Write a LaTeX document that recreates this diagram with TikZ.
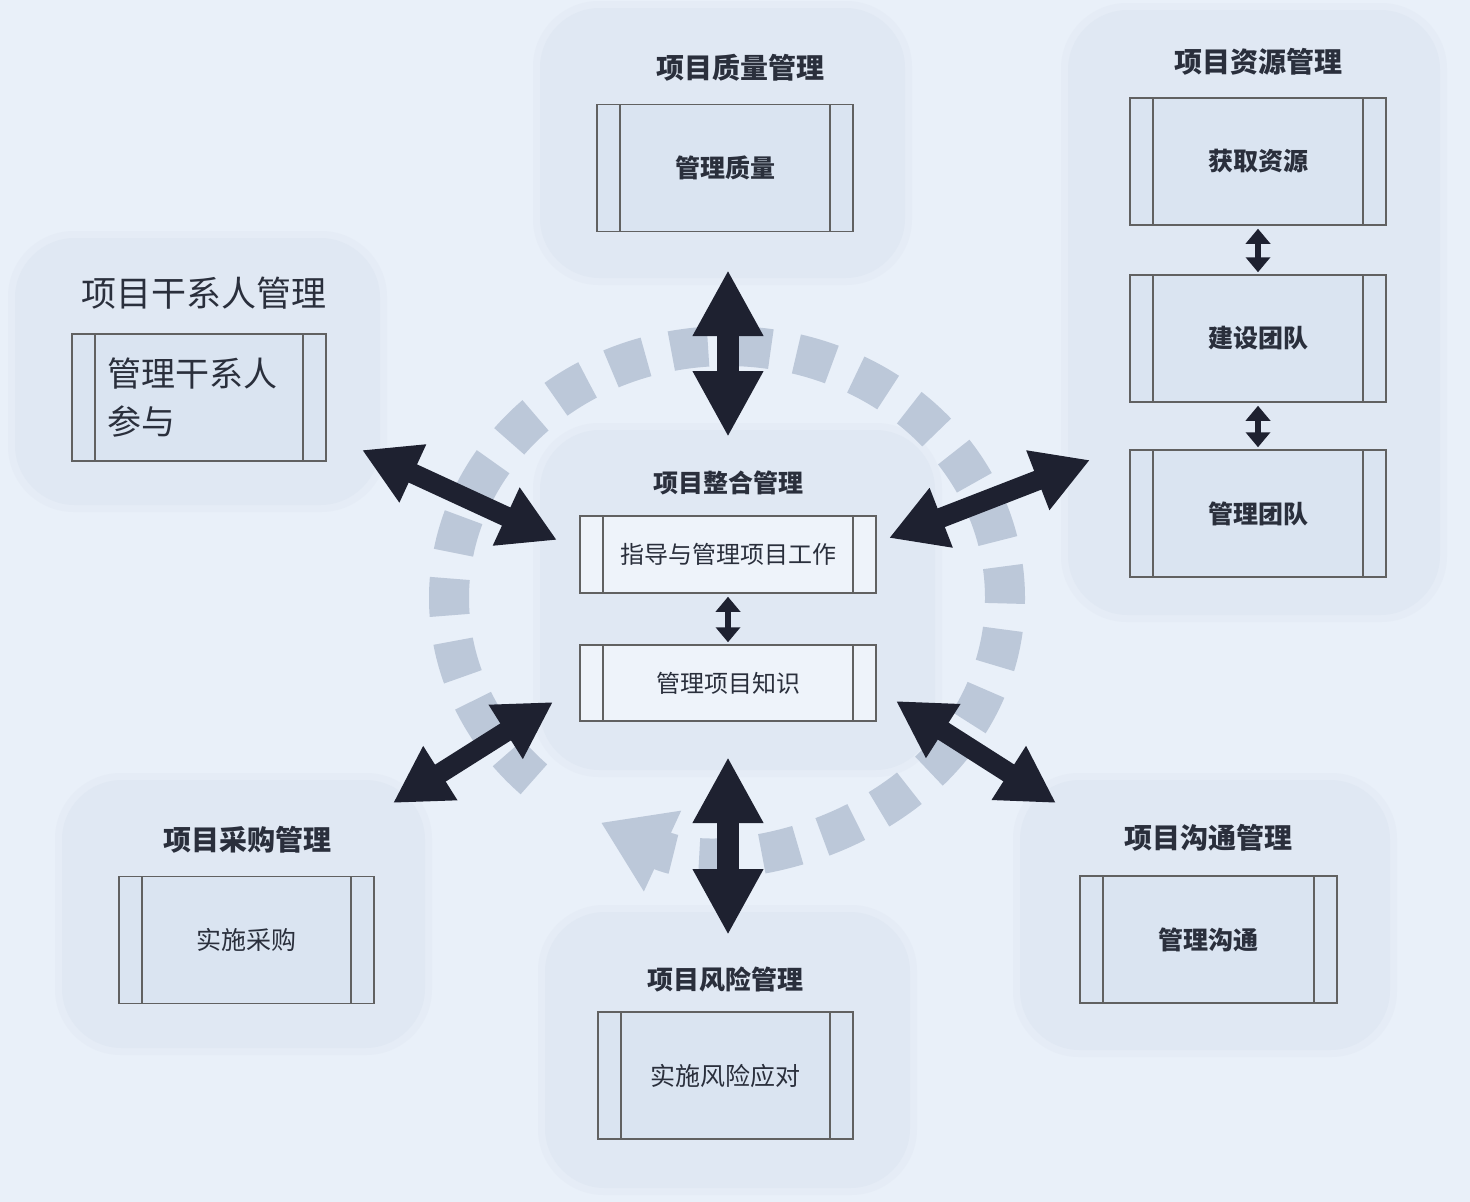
\documentclass[tikz,border=0pt]{standalone}
\usepackage{fontspec}
\setmainfont{Noto Sans CJK SC}
\usetikzlibrary{arrows.meta,positioning}
\definecolor{bgblue}{RGB}{233,240,249}
\definecolor{halo}{RGB}{229,236,246}
\definecolor{panelblue}{RGB}{224,232,243}
\definecolor{boxfill}{RGB}{218,228,241}
\definecolor{boxlight}{RGB}{238,243,250}
\definecolor{ringgray}{RGB}{188,200,217}
\definecolor{arrowdark}{RGB}{30,33,48}
\definecolor{textdark}{RGB}{42,47,60}
\tikzset{
  panel/.style={fill=panelblue, rounded corners=60pt},
  panelhalo/.style={fill=halo, rounded corners=66pt},
  procbox/.style={draw=black!62, line width=1.5pt, fill=boxfill, inner sep=0pt,
    minimum width=256pt, minimum height=127pt, text=textdark,
    font=\fontsize{25}{30}\selectfont\bfseries,
    path picture={\draw[black!62, line width=1.5pt]
      ([xshift=23pt]path picture bounding box.north west) -- ([xshift=23pt]path picture bounding box.south west)
      ([xshift=-23pt]path picture bounding box.north east) -- ([xshift=-23pt]path picture bounding box.south east);}},
  intbox/.style={procbox, fill=boxlight, minimum width=296pt, minimum height=77pt,
    font=\fontsize{24}{28}\selectfont},
  title/.style={text=textdark, font=\fontsize{28}{32}\selectfont\bfseries},
  ringline/.style={ringgray, line width=40pt, dash pattern=on 37pt off 26pt,
    -{Triangle[width=84pt,length=68pt]}},
  bigarrow/.style={arrowdark, line width=22pt,
    {Triangle[width=66pt,length=66pt]}-{Triangle[width=66pt,length=66pt]}},
  diagarrow/.style={arrowdark, line width=20pt,
    {Triangle[width=60pt,length=56pt]}-{Triangle[width=60pt,length=56pt]}},
  smallarrow/.style={arrowdark, line width=6pt, shorten <=3pt, shorten >=2pt,
    {Triangle[width=24pt,length=15pt]}-{Triangle[width=24pt,length=15pt]}},
}
\begin{document}
\begin{tikzpicture}[x=1pt,y=-1pt]
  \fill[bgblue] (0,0) rectangle (1470,1202);
  \useasboundingbox (0,0) rectangle (1470,1202);

  % soft panels
  \foreach \xa/\ya/\xb/\yb in {540/8/905/278, 1068/10/1440/615, 15/238/380/505,
      540/430/935/770, 62/780/425/1048, 545/912/910/1188, 1020/780/1390/1050}{
    \fill[panelhalo] (\xa-7,\ya-7) rectangle (\xb+7,\yb+7);
    \fill[panel] (\xa,\ya) rectangle (\xb,\yb);
  }

  % cycle ring
  \draw[ringline] (727,598) ++(134:278 and 252)
    arc[start angle=134, end angle=477, x radius=278, y radius=252];

  % titles
  \node[title] (qtitle) at (740,68) {项目质量管理};
  \node[title] (rtitle) at (1258,62) {项目资源管理};
  \node[title, font=\fontsize{35}{40}\selectfont] (stitle) at (204,293) {项目干系人管理};
  \node[title, font=\fontsize{25}{30}\selectfont\bfseries] (ititle) at (728,483) {项目整合管理};
  \node[title] (ptitle) at (247,840) {项目采购管理};
  \node[title, font=\fontsize{26}{30}\selectfont\bfseries] (ktitle) at (725,980) {项目风险管理};
  \node[title] (ctitle) at (1208,838) {项目沟通管理};

  % process boxes
  \node[procbox] (qbox) at (725,168) {管理质量};
  \node[procbox] (rbox1) at (1258,161.5) {获取资源};
  \node[procbox] (rbox2) at (1258,338.5) {建设团队};
  \node[procbox] (rbox3) at (1258,513.5) {管理团队};
  \node[procbox, minimum width=254pt, align=left, text width=184pt, inner xsep=35pt,
    font=\fontsize{34}{48}\selectfont] (sbox) at (199,397.5) {管理干系人\\参与};
  \node[intbox] (ibox1) at (728,554.5) {指导与管理项目工作};
  \node[intbox, minimum height=76pt] (ibox2) at (728,683) {管理项目知识};
  \node[procbox, minimum width=255pt, font=\fontsize{25}{30}\selectfont] (pbox) at (246.5,940) {实施采购};
  \node[procbox, minimum width=255pt, font=\fontsize{25}{30}\selectfont] (kbox) at (725.5,1075.5) {实施风险应对};
  \node[procbox, minimum width=257pt] (cbox) at (1208.5,939.5) {管理沟通};

  % arrow ends
  \coordinate (qend) at (728,270);
  \coordinate (iqend) at (728,437);
  \coordinate (send) at (362,450);
  \coordinate (isend) at (557,540);
  \coordinate (rend) at (1090,460);
  \coordinate (irend) at (889,538);
  \coordinate (pend) at (393,803);
  \coordinate (ipend) at (553,702);
  \coordinate (cend) at (1056,803);
  \coordinate (icend) at (896,701);
  \coordinate (kend) at (728,935);
  \coordinate (ikend) at (728,757);

  \draw[bigarrow] (qend) -- (iqend);
  \draw[bigarrow] (ikend) -- (kend);
  \draw[diagarrow] (send) -- (isend);
  \draw[diagarrow] (irend) -- (rend);
  \draw[diagarrow] (pend) -- (ipend);
  \draw[diagarrow] (icend) -- (cend);

  \draw[smallarrow] (ibox1) -- (ibox2);
  \draw[smallarrow] (rbox1) -- (rbox2);
  \draw[smallarrow] (rbox2) -- (rbox3);
\end{tikzpicture}
\end{document}
